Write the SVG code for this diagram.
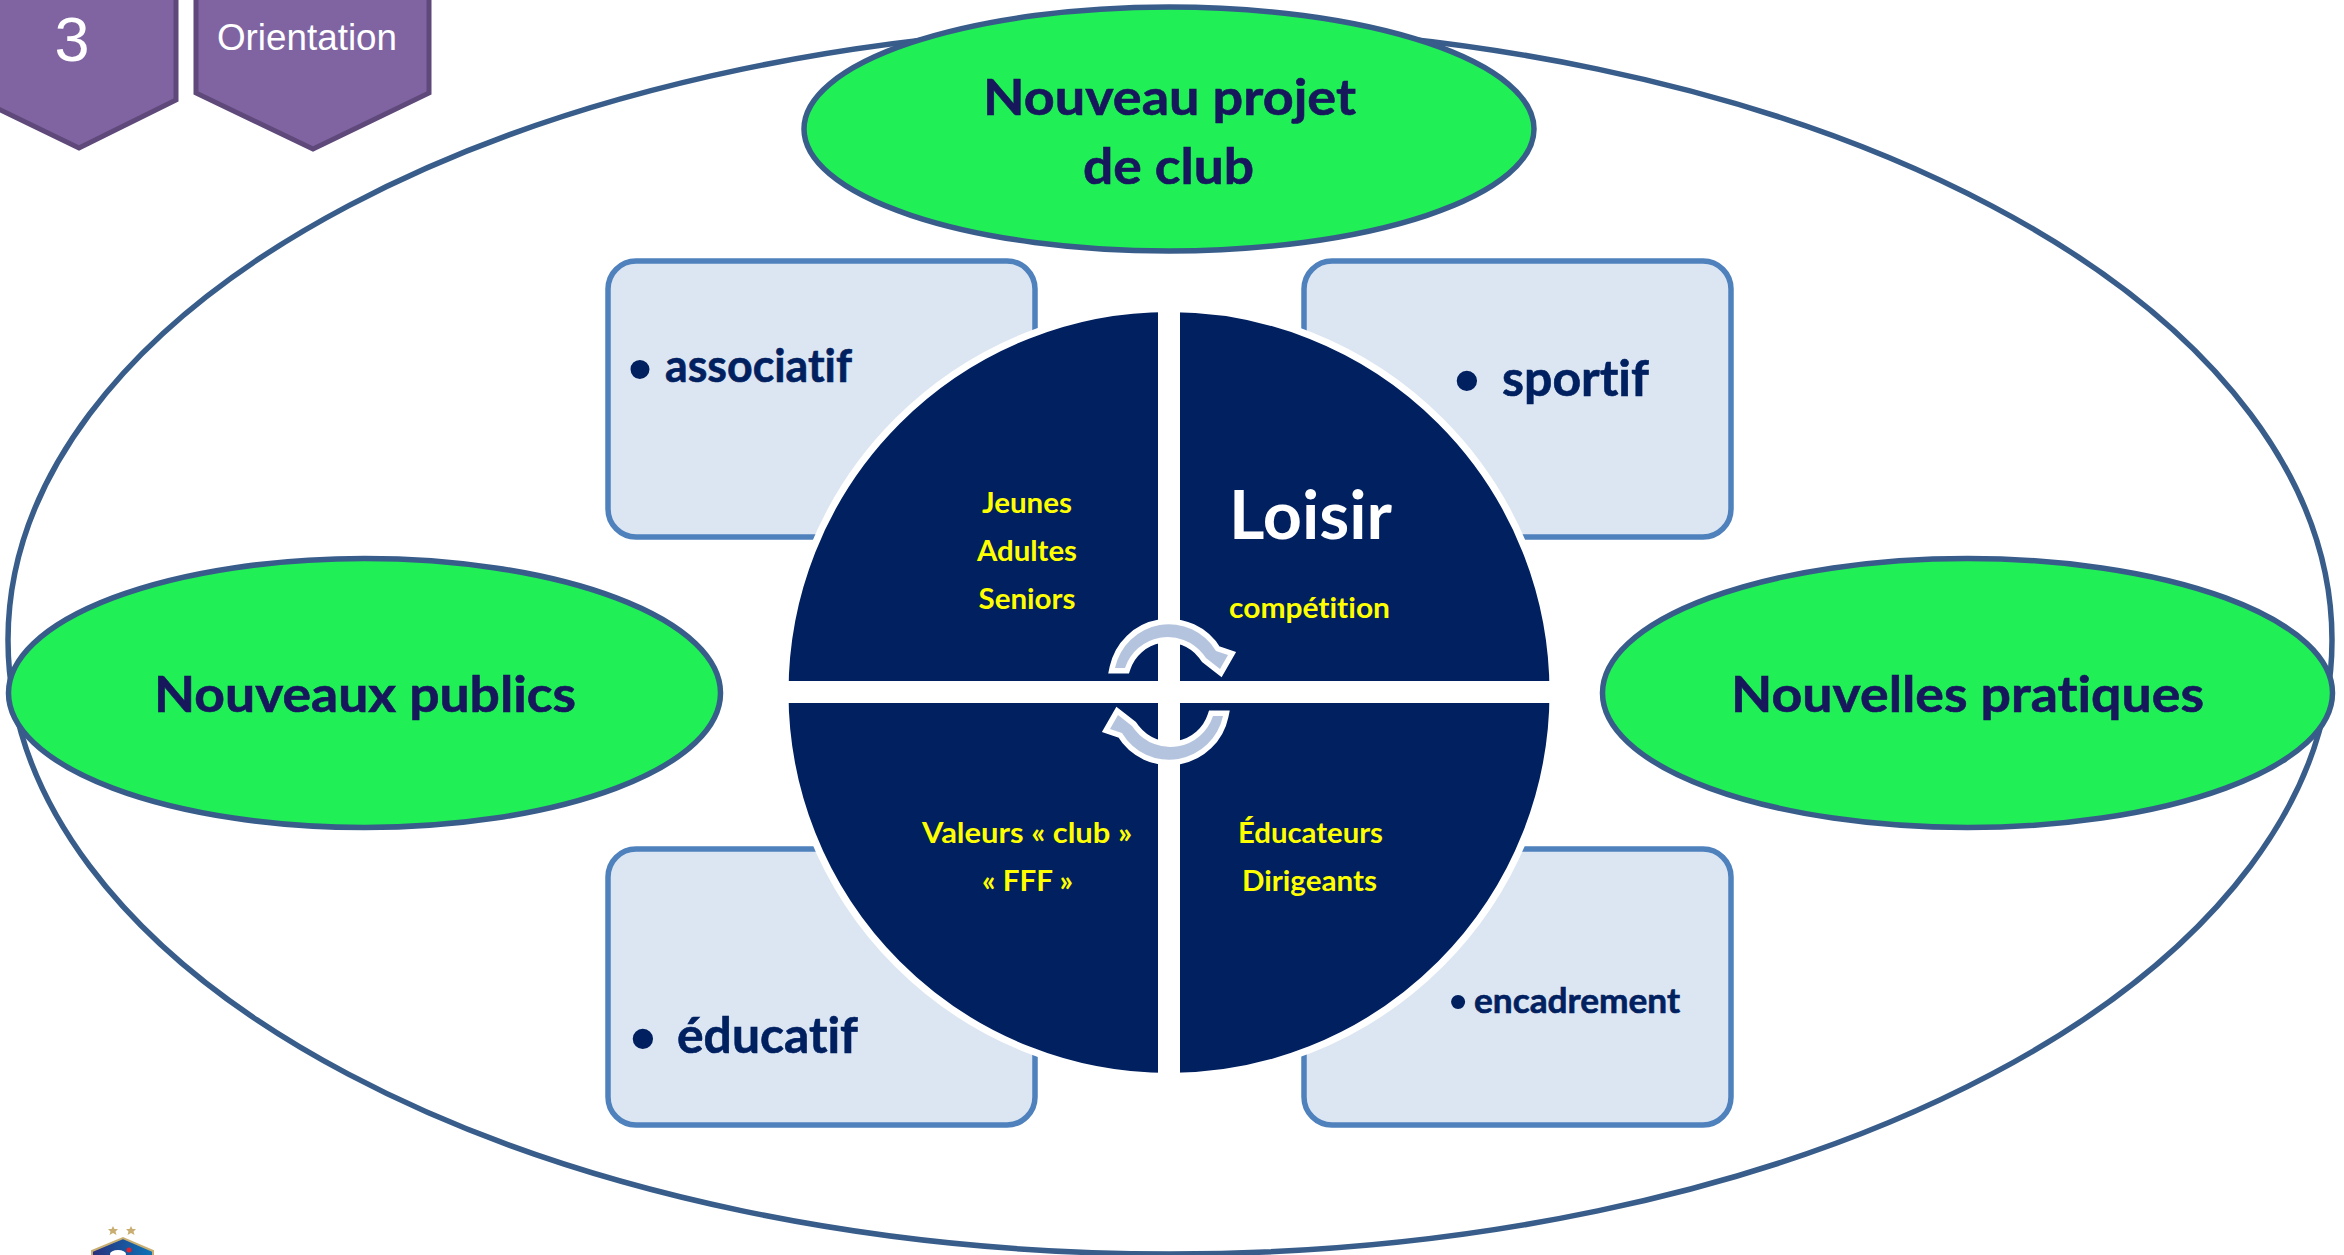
<svg xmlns="http://www.w3.org/2000/svg" width="2344" height="1255" viewBox="0 0 2344 1255">
<style>
text{font-variant-ligatures:none}
.g{fill:#20f056;stroke:#385d8a;stroke-width:5.500}
.b{fill:#dce6f2;stroke:#4f81bd;stroke-width:5.500}
.p{fill:#8064a2;stroke:#5f497a;stroke-width:5}
.t{font-family:Lato,"Open Sans",sans-serif;font-weight:700;fill:#002060;stroke:#002060;stroke-width:.6}
.e{fill:#17175c;stroke:#17175c;font-size:50px}
.d{font-family:"Liberation Sans",Arial,sans-serif;font-weight:400;text-anchor:middle;fill:#002060}
.h{font-size:50px}.l{font-size:46px}
.y{font-family:Lato,"Open Sans",sans-serif;font-weight:700;fill:#ffff00;font-size:28px}
.a{font-family:"Liberation Sans",Arial,sans-serif;fill:#fff}
.ar{fill:#b4c4de;stroke:#fff;stroke-width:11;stroke-linejoin:miter;paint-order:stroke}
</style>
<defs>
<linearGradient id="lg" x1="0" x2="1" y1="0" y2="0"><stop offset="0" stop-color="#2a2f7c"/><stop offset="1" stop-color="#0b74b8"/></linearGradient>
<path id="arc" class="ar" d="M1115,668 A55,55 0 0 1 1216,651 L1228,655 L1220,669 L1206,658 L1203,654 A45,45 0 0 0 1125,668 Z"/>
</defs>
<ellipse id="outer" cx="1170" cy="640" rx="1162" ry="614" fill="none" stroke="#385d8a" stroke-width="5.500"/>
<g id="tag-number"><path class="p" d="M-20,-10 L176,-10 L176,100 L79,148 L-20,100 Z"/><text class="a" x="72" y="61" font-size="63" text-anchor="middle">3</text></g>
<g id="tag-title"><path class="p" d="M196,-10 L429,-10 L429,93 L313,149 L196,93 Z"/><text class="a" x="217" y="50" font-size="37" textLength="180" lengthAdjust="spacingAndGlyphs">Orientation</text></g>
<g id="box-associatif"><rect class="b" x="608" y="261" width="427" height="276" rx="28"/><text class="d" x="640" y="393" font-size="70">•</text><text class="t l" x="665" y="382" textLength="187" lengthAdjust="spacingAndGlyphs">associatif</text></g>
<g id="box-sportif"><rect class="b" x="1304" y="261" width="427" height="276" rx="28"/><text class="d" x="1467" y="406" font-size="75">•</text><text class="t h" x="1502" y="396" textLength="147" lengthAdjust="spacingAndGlyphs">sportif</text></g>
<g id="box-educatif"><rect class="b" x="608" y="849" width="427" height="276" rx="28"/><text class="d" x="643" y="1064" font-size="75">•</text><text class="t h" x="677" y="1053" textLength="181" lengthAdjust="spacingAndGlyphs">éducatif</text></g>
<g id="box-encadrement"><rect class="b" x="1304" y="849" width="427" height="276" rx="28"/><text class="d" x="1458" y="1019" font-size="52">•</text><text class="t" font-size="34" x="1474" y="1013" textLength="206" lengthAdjust="spacingAndGlyphs">encadrement</text></g>
<g id="circle">
<circle cx="1169" cy="692.500" r="384" fill="#002060" stroke="#fff" stroke-width="7"/>
<rect x="1158" y="300" width="22" height="785" fill="#fff"/>
<rect x="776" y="681" width="786" height="22" fill="#fff"/>
</g>
<g id="connectors"><use href="#arc"/><use href="#arc" transform="rotate(180 1169 692)"/></g>
<g id="q1"><text class="y" x="1027" y="512.500" text-anchor="middle" textLength="90" lengthAdjust="spacingAndGlyphs">Jeunes</text><text class="y" x="1027" y="560.500" text-anchor="middle" textLength="100" lengthAdjust="spacingAndGlyphs">Adultes</text><text class="y" x="1027" y="609" text-anchor="middle" textLength="97" lengthAdjust="spacingAndGlyphs">Seniors</text></g>
<g id="q2"><text x="1229" y="539" font-family="Lato,'Open Sans',sans-serif" font-weight="700" font-size="66" fill="#fff" textLength="163" lengthAdjust="spacingAndGlyphs">Loisir</text><text class="y" x="1229" y="618" textLength="161" lengthAdjust="spacingAndGlyphs">compétition</text></g>
<g id="q3"><text class="y" x="922" y="843" textLength="210" lengthAdjust="spacingAndGlyphs">Valeurs « club »</text><text class="y" x="982" y="891" textLength="91" lengthAdjust="spacingAndGlyphs">« FFF »</text></g>
<g id="q4"><text class="y" x="1238" y="843" textLength="145" lengthAdjust="spacingAndGlyphs">Éducateurs</text><text class="y" x="1242" y="891" textLength="135" lengthAdjust="spacingAndGlyphs">Dirigeants</text></g>
<g id="top"><ellipse class="g" cx="1169" cy="129" rx="365" ry="122"/><text class="t e" x="983" y="115" textLength="373" lengthAdjust="spacingAndGlyphs">Nouveau projet</text><text class="t e" x="1083" y="184" textLength="171" lengthAdjust="spacingAndGlyphs">de club</text></g>
<g id="left"><ellipse class="g" cx="364.500" cy="693" rx="356" ry="134.500"/><text class="t e" x="154" y="712" textLength="422" lengthAdjust="spacingAndGlyphs">Nouveaux publics</text></g>
<g id="right"><ellipse class="g" cx="1967.500" cy="693" rx="365" ry="134.500"/><text class="t e" x="1731" y="712" textLength="473" lengthAdjust="spacingAndGlyphs">Nouvelles pratiques</text></g>
<g id="logo">
<polygon fill="#c9ae72" points="113,1226 114.500,1229 118,1229 115.500,1231.500 116.500,1235 113,1233 109.500,1235 110.500,1231.500 108,1229 111.500,1229"/>
<polygon fill="#c9ae72" points="131,1226 132.500,1229 136,1229 133.500,1231.500 134.500,1235 131,1233 127.500,1235 128.500,1231.500 126,1229 129.500,1229"/>
<path d="M92,1251 L123,1238 L153,1251 L153,1260 L92,1260 Z" fill="url(#lg)" stroke="#c9ae72" stroke-width="2"/>
<ellipse cx="118" cy="1254" rx="8" ry="4" fill="#fff"/><circle cx="129" cy="1250" r="2.500" fill="#e3202c"/>
</g>
</svg>
